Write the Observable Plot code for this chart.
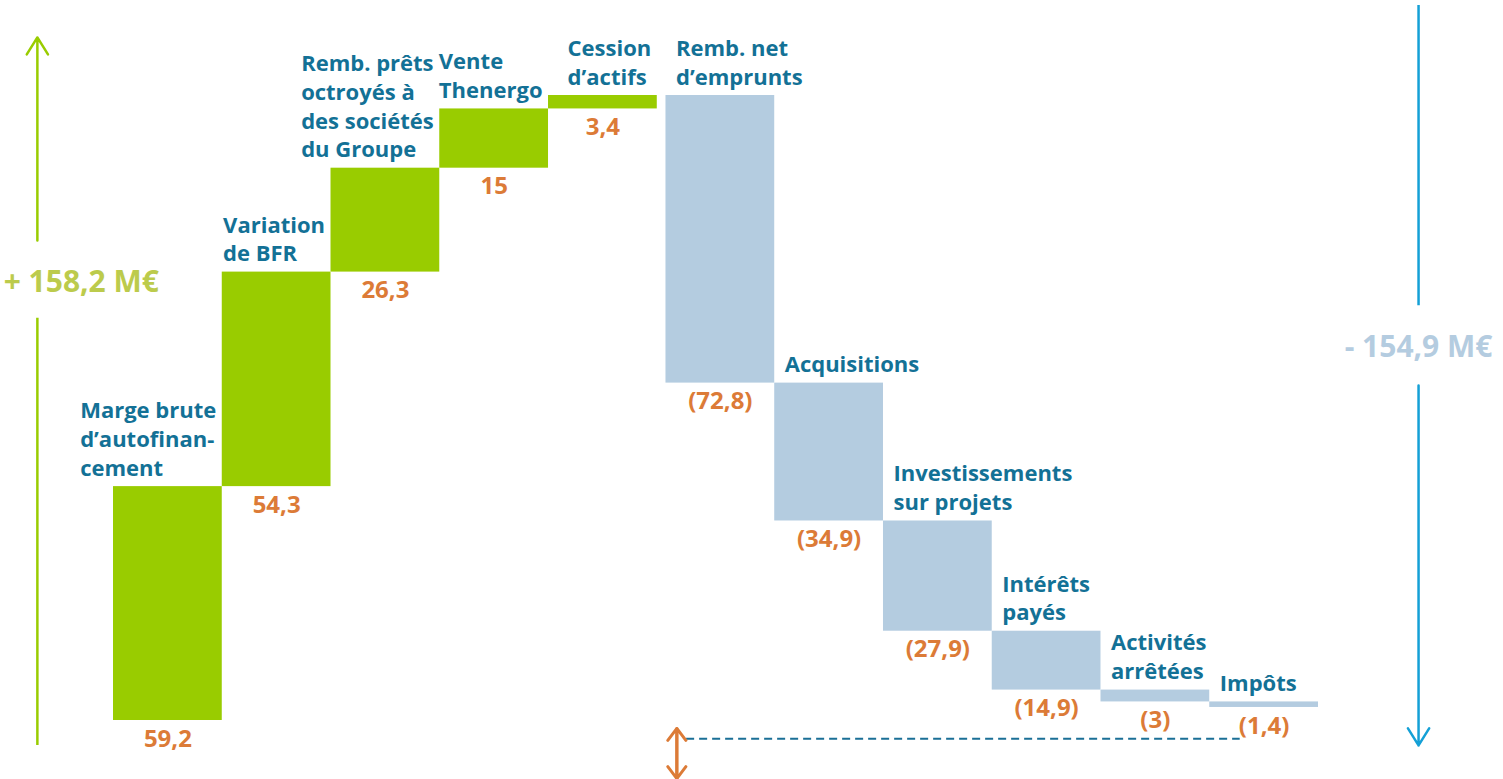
<!DOCTYPE html>
<html>
<head>
<meta charset="utf-8">
<script src="https://cdn.jsdelivr.net/npm/d3@7"></script>
<script src="https://cdn.jsdelivr.net/npm/@observablehq/plot@0.6"></script>
<style>
  html, body { margin: 0; padding: 0; background: #fff; }
  svg { display: block; }
</style>
</head>
<body>
<div id="chart"></div>
<script>
// ---- data ----
const categories = [
  "Marge brute\nd’autofinan-\ncement",
  "Variation\nde BFR",
  "Remb. prêts\noctroyés à\ndes sociétés\ndu Groupe",
  "Vente\nThenergo",
  "Cession\nd’actifs",
  "Remb. net\nd’emprunts",
  "Acquisitions",
  "Investissements\nsur projets",
  "Intérêts\npayés",
  "Activités\narrêtées",
  "Impôts"
];
const values = [59.2, 54.3, 26.3, 15, 3.4, -72.8, -34.9, -27.9, -14.9, -3, -1.4];
const valueLabels = ["59,2", "54,3", "26,3", "15", "3,4", "(72,8)", "(34,9)", "(27,9)", "(14,9)", "(3)", "(1,4)"];
const totalLabels = ["+ 158,2 M€", "- 154,9 M€"];

// ---- style ----
const GREEN = "#99cc00", BLUE = "#b4cce0", TEAL = "#137196", ORANGE = "#dc7b37";
const TOTAL_GREEN = "#bccb4c", TOTAL_BLUE = "#b4cce0", LINE_BLUE = "#14a0d6", DASH = "#1a6f96";
const FONT = "'Open Sans', sans-serif";
const LABEL_SIZE = 22, VALUE_SIZE = 24, TOTAL_SIZE = 30;
const GAP = 0.08; // gap between inflows and outflows groups (in band units)

// ---- layout / scales ----
const X0 = 113, X1 = 1318;
const xDomain = [0, values.length + GAP];
const pxPerUnit = (X1 - X0) / xDomain[1];
const totalPos = d3.sum(values.filter(v => v > 0));
const totalNeg = d3.sum(values.filter(v => v < 0));

// measure labels to left-align inflow labels against the next bar
const ctx = document.createElement("canvas").getContext("2d");
ctx.font = `700 ${LABEL_SIZE}px ${FONT}`;
const textWidth = s => d3.max(s.split("\n"), l => ctx.measureText(l).width);

let cum = 0;
const data = categories.map((label, i) => {
  const start = cum;
  cum += values[i];
  const x1 = i + (values[i] < 0 ? GAP : 0);
  return {label, value: values[i], vlabel: valueLabels[i], start, end: cum, x1, x2: x1 + 1,
          lo: Math.min(start, cum), hi: Math.max(start, cum)};
});
data.forEach(d => { d.labelX = d.x2 - (textWidth(d.label) + 6) / pxPerUnit; });
const inflows = data.filter(d => d.value > 0);
const outflows = data.filter(d => d.value < 0);
const firstOut = outflows[0], lastOut = outflows[outflows.length - 1];

// annotation positions (data units)
const annot = {
  leftX: -0.70, leftTextX: -1.01,
  leftLow: [-6.3, 101.8], leftHigh: [121.5, 172.9], leftTextY: 110.9,
  rightX: 12.0,
  rightHigh: [181.0, 105.0], rightLow: [84.8, -6.3], rightTextY: 94.4,
  dashY: -4.6, dashX: [firstOut.x1 + 0.19, lastOut.x1 + 0.28],
  arrowX: firstOut.x1 + 0.1, arrowY: [-2.0, -14.7]
};

const plot = Plot.plot({
  width: 1503,
  height: 779,
  margin: 0,
  x: {type: "linear", domain: xDomain, range: [X0, X1], axis: null},
  y: {domain: [0, totalPos], range: [720, 95], axis: null},
  style: {fontFamily: FONT, fontWeight: 700, background: "#fff", overflow: "visible"},
  marks: [
    // bars
    Plot.rect(inflows, {x1: "x1", x2: "x2", y1: "start", y2: "end", fill: GREEN}),
    Plot.rect(outflows, {x1: "x1", x2: "x2", y1: "start", y2: "end", fill: BLUE}),
    // category labels
    Plot.text(inflows, {x: "labelX", y: "end", text: "label", textAnchor: "start", lineAnchor: "bottom",
      dy: -11, fill: TEAL, fontSize: LABEL_SIZE, lineHeight: 1.3, fontWeight: 700}),
    Plot.text(outflows, {x: "x1", y: "start", text: "label", textAnchor: "start", lineAnchor: "bottom",
      dx: 10, dy: -11, fill: TEAL, fontSize: LABEL_SIZE, lineHeight: 1.3, fontWeight: 700}),
    // value labels
    Plot.text(data, {x: d => (d.x1 + d.x2) / 2, y: "lo", text: "vlabel", lineAnchor: "top",
      dy: 9, fill: ORANGE, fontSize: VALUE_SIZE, fontWeight: 700}),
    // left total arrow
    Plot.ruleX([annot.leftX], {y1: annot.leftLow[0], y2: annot.leftLow[1], stroke: GREEN, strokeWidth: 2.5}),
    Plot.arrow([annot.leftHigh], {x1: annot.leftX, x2: annot.leftX, y1: d => d[0], y2: d => d[1],
      stroke: GREEN, strokeWidth: 2.5, headLength: 12, headAngle: 64}),
    Plot.text([totalLabels[0]], {x: annot.leftTextX, y: annot.leftTextY, text: d => d, textAnchor: "start",
      fill: TOTAL_GREEN, fontSize: TOTAL_SIZE, fontWeight: 700}),
    // right total arrow
    Plot.ruleX([annot.rightX], {y1: annot.rightHigh[0], y2: annot.rightHigh[1], stroke: LINE_BLUE, strokeWidth: 2.5}),
    Plot.arrow([annot.rightLow], {x1: annot.rightX, x2: annot.rightX, y1: d => d[0], y2: d => d[1],
      stroke: LINE_BLUE, strokeWidth: 2.5, headLength: 12, headAngle: 64}),
    Plot.text([totalLabels[1]], {x: annot.rightX, y: annot.rightTextY, text: d => d,
      fill: TOTAL_BLUE, fontSize: TOTAL_SIZE, fontWeight: 700}),
    // dashed net line and double arrow
    Plot.ruleY([annot.dashY], {x1: annot.dashX[0], x2: annot.dashX[1], stroke: DASH, strokeWidth: 2,
      strokeDasharray: "8,5"}),
    Plot.arrow([annot.arrowY], {x1: annot.arrowX, x2: annot.arrowX, y1: d => d[0], y2: d => d[1],
      stroke: ORANGE, strokeWidth: 3, headLength: 7.5, headAngle: 74}),
    Plot.arrow([annot.arrowY], {x1: annot.arrowX, x2: annot.arrowX, y1: d => d[1], y2: d => d[0],
      stroke: ORANGE, strokeWidth: 3, headLength: 7.5, headAngle: 74})
  ]
});
document.getElementById("chart").appendChild(plot);
</script>
</body>
</html>
